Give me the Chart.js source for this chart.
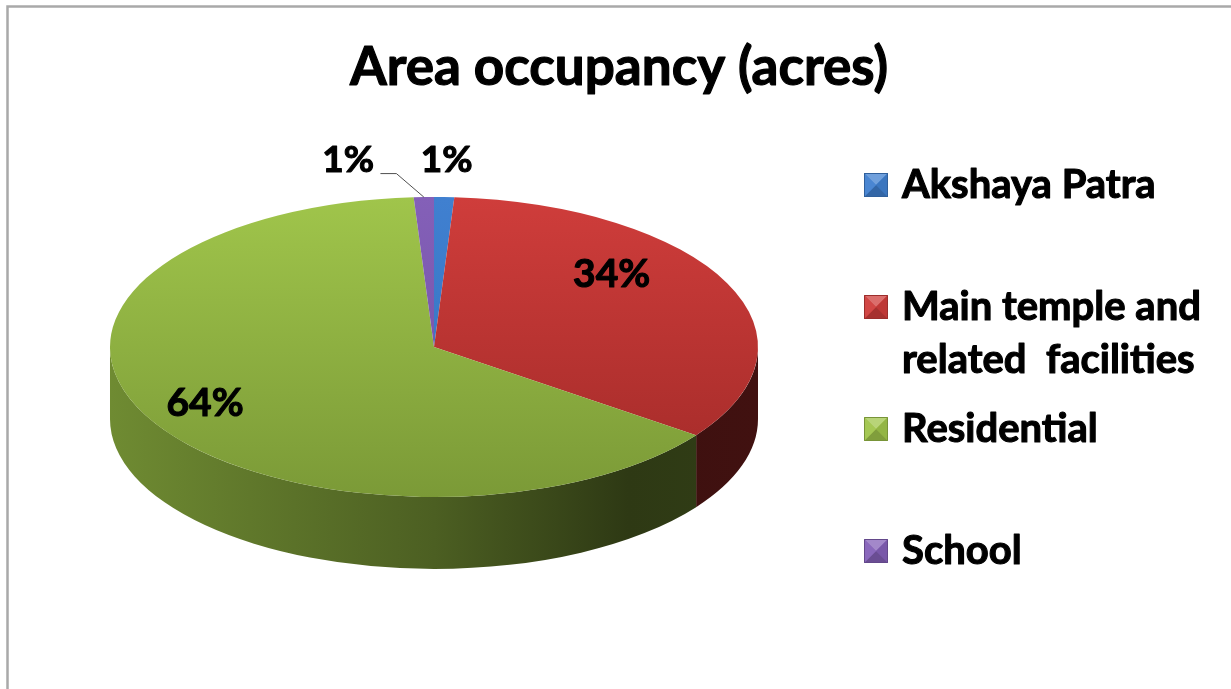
<!DOCTYPE html>
<html><head><meta charset="utf-8">
<script src="https://cdn.jsdelivr.net/npm/chart.js@4.4.0/dist/chart.umd.min.js"></script>
<style>html,body{margin:0;padding:0;background:#fff;overflow:hidden}
#wrap{position:absolute;left:0;top:0;width:1231px;height:689px}</style>
</head><body><div id="wrap"><canvas id="c" width="1231" height="689"></canvas></div>
<script>
// ---- data ----
const chartTitle = 'Area occupancy (acres)';
const categories = ['Akshaya Patra', ['Main temple and', 'related  facilities'], 'Residential', 'School'];
const areaShare = [1, 34, 64, 1];
const topColors = ['#4080d0', '#cf3d3b', '#a0c54b', '#8460b8'];
const bottomColors = ['#3370bd', '#a22a28', '#7b9a37', '#6f4fa3'];

// ---- helpers ----
function rgbOf(hex){const n=parseInt(hex.slice(1),16);return [n>>16&255,n>>8&255,n&255];}
function shade(hex,f){const c=rgbOf(hex);return 'rgb('+c.map(v=>Math.round(f>1?v+(255-v)*(f-1):v*f)).join(',')+')';}
const FONT = 'Lato, "Open Sans", sans-serif';
const DEPTH_RATIO = 0.48;

function heavyText(c, t, x, y, w){
  c.lineWidth = w; c.strokeStyle = c.fillStyle; c.lineJoin = 'round';
  c.strokeText(t, x, y); c.fillText(t, x, y);
}

function pieGeom(chart){
  const meta = chart.getDatasetMeta(0);
  const a = meta.data[0].getProps(['x','y','outerRadius'], true);
  const ca = chart.chartArea;
  return {meta, x:a.x, y:a.y, R:a.outerRadius, sx:(ca.right-ca.left)/2/a.outerRadius};
}

const framePlugin = {
  id:'frame',
  beforeDraw(chart){
    const c=chart.ctx; c.save();
    c.fillStyle='#fff'; c.fillRect(0,0,chart.width,chart.height);
    c.strokeStyle='#a9a9a9'; c.lineWidth=2.5;
    c.strokeRect(7.5,6.5,chart.width+20,chart.height+20);
    c.fillStyle='#000'; c.font='bold 53px '+FONT; c.textAlign='center'; c.textBaseline='alphabetic';
    heavyText(c, chartTitle, 619, 85, 1.2);
    c.restore();
  }
};

const pie3dPlugin = {
  id:'pie3d',
  beforeDatasetsDraw(chart){
    const {meta,x,y,R,sx} = pieGeom(chart);
    const c = chart.ctx, depth = R*DEPTH_RATIO;
    c.save();
    c.translate(x,0); c.scale(sx,1); c.translate(-x,0);
    meta.data.forEach((arc,i)=>{
      const p = arc.getProps(['startAngle','endAngle'], true);
      for(let k=-1;k<=1;k++){
        const lo=Math.max(p.startAngle,2*Math.PI*k), hi=Math.min(p.endAngle,2*Math.PI*k+Math.PI);
        if(hi>lo){
          c.beginPath();
          c.arc(x,y,R,lo,hi);
          c.arc(x,y+depth,R,hi,lo,true);
          c.closePath();
          const g=c.createLinearGradient(x-R,0,x+R,0);
          const b=bottomColors[i];
          g.addColorStop(0,shade(b,0.9));
          g.addColorStop(0.5,shade(b,0.62));
          g.addColorStop(0.8,shade(b,0.37));
          g.addColorStop(1,shade(b,0.4));
          c.fillStyle=g; c.fill();
        }
      }
    });
  },
  afterDatasetsDraw(chart){
    const c = chart.ctx;
    c.restore();
    const {meta,x,y,R,sx} = pieGeom(chart);
    const values = chart.data.datasets[0].data;
    const total = values.reduce((s,v)=>s+v,0);
    c.save();
    c.font='bold 39px '+FONT; c.fillStyle='#000'; c.textAlign='center'; c.textBaseline='middle';
    const placed=[];
    meta.data.forEach((arc,i)=>{
      const p=arc.getProps(['startAngle','endAngle'],true);
      const mid=(p.startAngle+p.endAngle)/2;
      const pct=Math.round(values[i]/total*100);
      const txt=pct+'%';
      const w=c.measureText(txt).width;
      if(pct>=5){
        // inside label, with a simple perspective correction (far side compressed)
        const f=0.7;
        const v=f*Math.sin(mid);
        heavyText(c, txt, x+sx*R*f*Math.cos(mid)*(1+0.45*v), y+R*v*1.35-12, 1.1);
      } else {
        let px=x+sx*R*1.25*Math.cos(mid), py=y+R*1.25*Math.sin(mid);
        let shifted=false;
        for(const o of placed){
          if(Math.abs(px-o.x)<(w+o.w)/2+4 && Math.abs(py-o.y)<30){
            px = Math.cos(mid)<0 ? o.x-o.w/2-44-w/2 : o.x+o.w/2+44+w/2;
            shifted=true;
          }
        }
        c.font='bold 37px '+FONT;
        heavyText(c, txt, px, py, 1.1);
        c.font='bold 39px '+FONT;
        placed.push({x:px,y:py,w});
        if(shifted){
          const ex=x+sx*R*Math.cos(mid), ey=y+R*Math.sin(mid);
          const sxp = Math.cos(mid)<0 ? px+w/2+5 : px-w/2-5;
          const dir = Math.cos(mid)<0 ? 1 : -1;
          c.beginPath(); c.strokeStyle='#505050'; c.lineWidth=1;
          c.moveTo(sxp,py+14); c.lineTo(sxp+dir*16,py+14); c.lineTo(ex,ey); c.stroke();
        }
      }
    });
    c.restore();
  }
};

const legendPlugin = {
  id:'sideLegend',
  afterDraw(chart){
    const c=chart.ctx; c.save();
    const mx=864, size=24, tx=902, base=198, slot=122, lineGap=53;
    c.font='bold 40px '+FONT; c.textAlign='left'; c.textBaseline='alphabetic';
    chart.data.labels.forEach((lab,i)=>{
      const b=base+i*slot, top=b-25;
      const col=topColors[i];
      c.fillStyle=col; c.fillRect(mx,top,size,size);
      const cx=mx+size/2, cy=top+size/2;
      const tri=(pts,f)=>{c.beginPath();c.moveTo(pts[0],pts[1]);c.lineTo(pts[2],pts[3]);c.lineTo(cx,cy);c.closePath();c.fillStyle=shade(col,f);c.fill();};
      tri([mx,top,mx+size,top],1.25);
      tri([mx+size,top,mx+size,top+size],0.92);
      tri([mx,top+size,mx+size,top+size],0.8);
      tri([mx,top,mx,top+size],1.05);
      c.strokeStyle=shade(col,0.75); c.lineWidth=1; c.strokeRect(mx+0.5,top+0.5,size-1,size-1);
      c.fillStyle='#000';
      const lines=Array.isArray(lab)?lab:[lab];
      lines.forEach((t,j)=>heavyText(c,t,tx,b+j*lineGap,1.1));
    });
    c.restore();
  }
};

new Chart(document.getElementById('c'), {
  type:'pie',
  data:{
    labels:categories,
    datasets:[{
      data:areaShare,
      backgroundColor:(ctx)=>{
        const ch=ctx.chart, ca=ch.chartArea, i=ctx.dataIndex;
        if(!ca) return topColors[i];
        const g=ch.ctx.createLinearGradient(0,ca.top,0,ca.bottom);
        g.addColorStop(0,topColors[i]); g.addColorStop(1,bottomColors[i]);
        return g;
      },
      borderWidth:0, hoverOffset:0, offset:0, clip:false
    }]
  },
  options:{
    responsive:false, animation:false, events:[],
    layout:{padding:{left:110,right:473,top:197,bottom:192}},
    plugins:{legend:{display:false}, tooltip:{enabled:false}, title:{display:false}}
  },
  plugins:[framePlugin,pie3dPlugin,legendPlugin]
});
</script></body></html>
